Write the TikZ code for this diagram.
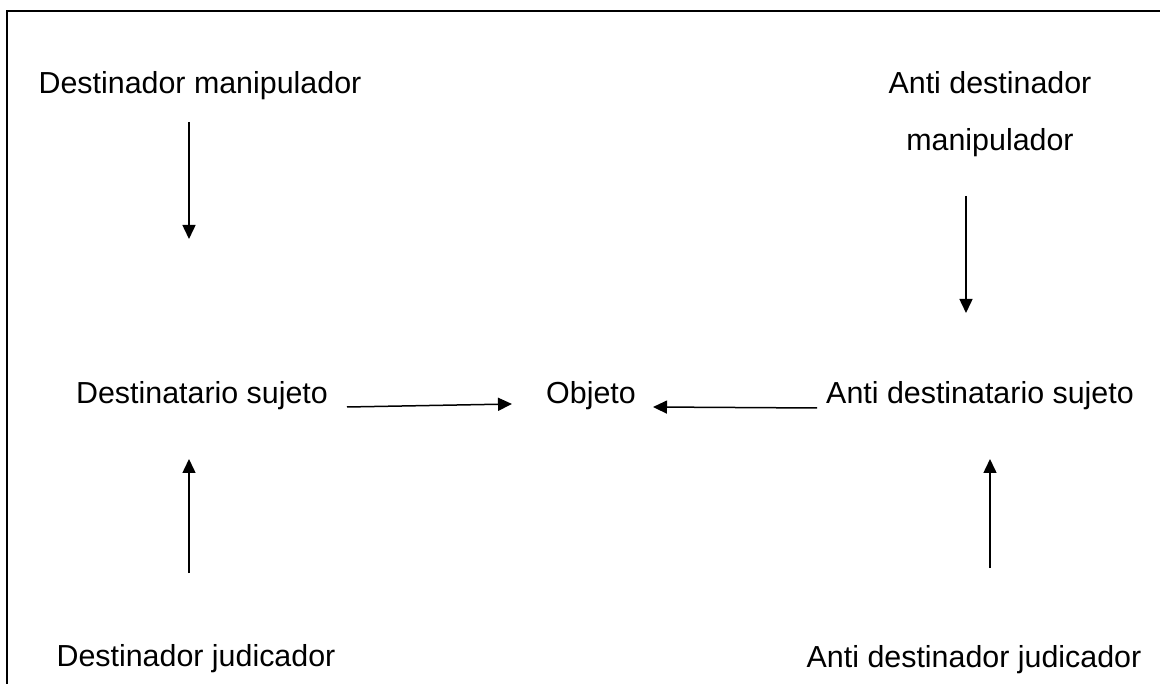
\documentclass[tikz,border=0pt]{standalone}
\usepackage{fontspec}
\setmainfont{Liberation Sans}
\usetikzlibrary{arrows.meta}
\begin{document}
\begin{tikzpicture}[x=1pt,y=-1pt,
  lbl/.style={anchor=base,inner sep=0pt,font=\fontsize{30.4}{57}\selectfont},
  arr/.style={line width=1.5pt,-{Triangle[length=14pt,width=13pt]}},
  frame/.style={line width=2.6pt}]
\useasboundingbox (0,0) rectangle (1160,684);
\coordinate (fa) at (1162,11);
\coordinate (fb) at (7,11);
\coordinate (fc) at (7,686);
\draw[frame] (fa) -- (fb) -- (fc);
% labels
\node[lbl] (dm) at (200,94) {Destinador manipulador};
\node[lbl] (adm1) at (990,94) {Anti destinador};
\node[lbl] (adm2) at (990,151) {manipulador};
\node[lbl] (ds) at (202,404) {Destinatario sujeto};
\node[lbl] (ob) at (591,404) {Objeto};
\node[lbl] (ads) at (980,404) {Anti destinatario sujeto};
\node[lbl] (dj) at (196,666) {Destinador judicador};
\node[lbl] (adj) at (974,667) {Anti destinador judicador};
% arrow ends
\coordinate (a1s) at (189,122); \coordinate (a1e) at (189,239);
\coordinate (a2s) at (966,196); \coordinate (a2e) at (966,313);
\coordinate (a3s) at (189,573); \coordinate (a3e) at (189,459);
\coordinate (a4s) at (990,568); \coordinate (a4e) at (990,459);
\coordinate (a5s) at (347,407); \coordinate (a5e) at (512,404);
\coordinate (a6s) at (817,408); \coordinate (a6e) at (653,407);
\draw[arr] (a1s) -- (a1e);
\draw[arr] (a2s) -- (a2e);
\draw[arr] (a3s) -- (a3e);
\draw[arr] (a4s) -- (a4e);
\draw[arr] (a5s) -- (a5e);
\draw[arr] (a6s) -- (a6e);
\end{tikzpicture}
\end{document}
